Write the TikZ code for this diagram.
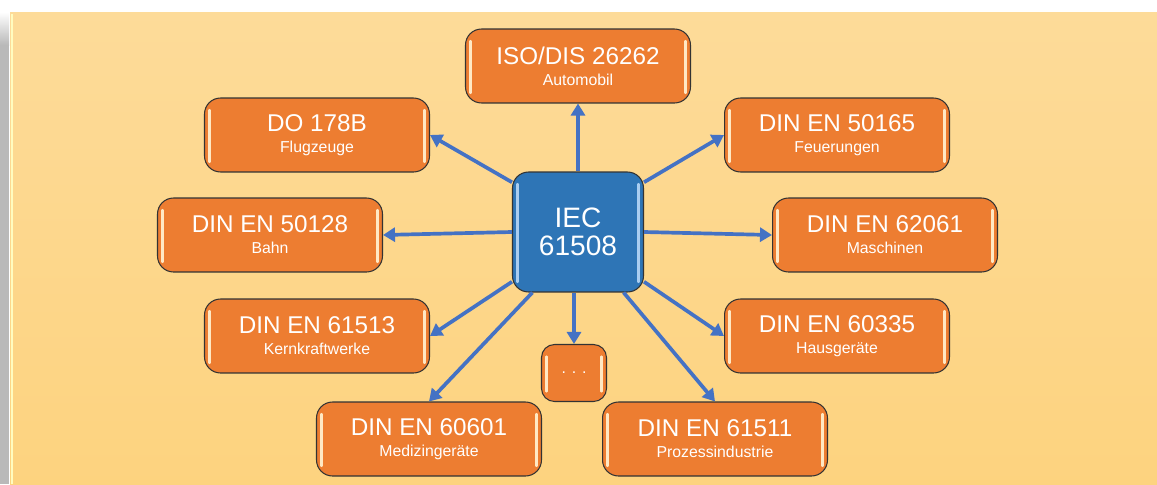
\documentclass[tikz,border=0pt]{standalone}
\usepackage{fontspec}
\setmainfont{Liberation Sans}
\definecolor{bgtop}{RGB}{253,219,153}
\definecolor{bgbot}{RGB}{253,211,127}
\definecolor{stdorange}{RGB}{237,125,49}
\definecolor{iecblue}{RGB}{46,117,182}
\definecolor{lnkblue}{RGB}{68,114,196}
\definecolor{glintcream}{RGB}{255,232,196}
\definecolor{glintblue}{RGB}{170,205,240}
\definecolor{shadowgray}{RGB}{185,185,185}
\newcommand{\stdsub}[1]{{\fontsize{9}{12}\selectfont #1}}
\usetikzlibrary{arrows.meta,calc}

\begin{document}
\begin{tikzpicture}[x=0.02cm, y=-0.02cm,
  glint/.style={path picture={
    \draw[#1, line width=1.2pt, line cap=round] ([xshift=0.1cm,yshift=-0.24cm]path picture bounding box.north west) -- ([xshift=0.1cm,yshift=0.2cm]path picture bounding box.south west);
    \draw[#1, line width=1.2pt, line cap=round] ([xshift=-0.1cm,yshift=-0.24cm]path picture bounding box.north east) -- ([xshift=-0.1cm,yshift=0.2cm]path picture bounding box.south east);}},
  glint/.default=glintcream,
  std/.style={draw=black!80, line width=0.6pt, fill=stdorange, rounded corners=0.32cm, minimum width=4.5cm, minimum height=1.48cm, inner sep=0pt, align=center, text=white, font=\fontsize{13.8}{12}\selectfont, glint},
  lnk/.style={draw=lnkblue, line width=2.1pt, -{Triangle[length=2.4mm,width=2.8mm]}}
]
  \useasboundingbox (0,0) rectangle (1157,484);

  %% Background
  \shade[top color=white, bottom color=shadowgray] (0,12) rectangle (9,45);
  \fill[shadowgray] (0,45) rectangle (9,484);
  \shade[top color=bgtop, bottom color=bgbot] (10,12) rectangle (1157,484);
  \draw[line width=1.5pt, yellow!25] (12,14) -- (12,484);

  %% Central standard
  \node[std, fill=iecblue, minimum width=2.62cm, minimum height=2.4cm, font=\fontsize{16}{16}\selectfont, glint=glintblue] (iec) at (578,232) {IEC\\61508};

  %% Sector standards
  \node[std] (iso) at (578,66) {ISO/DIS 26262\\\stdsub{Automobil}};
  \node[std] (do) at (317,135) {DO 178B\\\stdsub{Flugzeuge}};
  \node[std] (fe) at (837,135) {DIN EN 50165\\\stdsub{Feuerungen}};
  \node[std] (ba) at (270,235) {DIN EN 50128\\\stdsub{Bahn}};
  \node[std] (ma) at (885,235) {DIN EN 62061\\\stdsub{Maschinen}};
  \node[std] (kk) at (317,336) {DIN EN 61513\\\stdsub{Kernkraftwerke}};
  \node[std] (hg) at (837,336) {DIN EN 60335\\\stdsub{Hausgeräte}};
  \node[std] (me) at (429,439) {DIN EN 60601\\\stdsub{Medizingeräte}};
  \node[std] (pi) at (715,439) {DIN EN 61511\\\stdsub{Prozessindustrie}};
  \node[std, minimum width=1.3cm, minimum height=1.14cm, rounded corners=0.26cm] (etc) at (574,373) {\stdsub{. . .}};

  %% Links
  \draw[lnk] (iec.north) -- (iso.south);
  \draw[lnk] (iec.143) -- (do.east);
  \draw[lnk] (iec.37) -- (fe.west);
  \draw[lnk] (iec.west) -- (ba.east);
  \draw[lnk] (iec.east) -- (ma.west);
  \draw[lnk] (iec.217) -- (kk.east);
  \draw[lnk] (iec.323) -- (hg.west);
  \draw[lnk] (iec.233) -- (me.north);
  \draw[lnk] (iec.307) -- (pi.north);
  \draw[lnk] (iec.south -| etc.north) -- (etc.north);
\end{tikzpicture}
\end{document}
